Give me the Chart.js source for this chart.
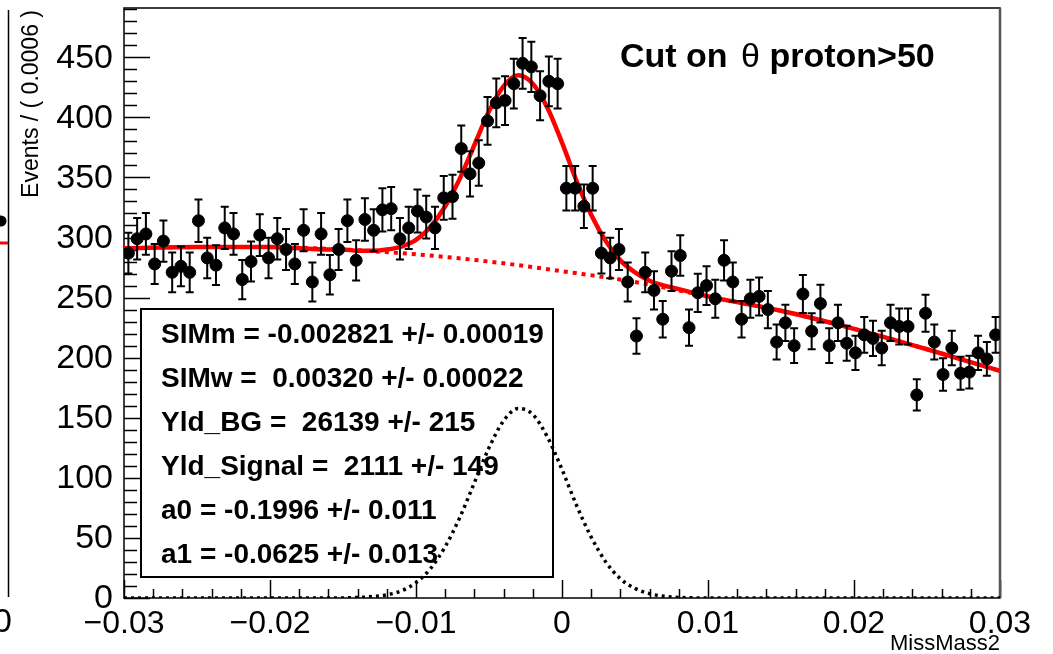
<!DOCTYPE html>
<html>
<head>
<meta charset="utf-8">
<script src="https://cdn.jsdelivr.net/npm/chart.js@4"></script>
<style>
  html, body { margin: 0; padding: 0; background: #fff; }
  #wrap { position: relative; width: 1053px; height: 654px; }
</style>
</head>
<body>
<div id="wrap"><canvas id="chart" width="1053" height="654"></canvas></div>
<script>
// histogram binning: Events / ( 0.0006 )
const xMin = -0.03;
const xMax = 0.03;
const binWidth = 0.0006;

// counts per bin
const counts = [
  287, 299, 303, 278, 297, 271, 276, 271, 314, 283,
  277, 308, 303, 265, 280, 302, 283, 299, 290, 278,
  306, 263, 303, 269, 290, 314, 281, 315, 306, 323,
  324, 299, 308, 322, 317, 308, 333, 334, 374, 353,
  362, 397, 412, 414, 428, 445, 442, 418, 430, 428,
  341, 341, 326, 341, 287, 283, 290, 263, 218, 271,
  256, 232, 272, 285, 225, 254, 260, 249, 281, 263,
  232, 249, 251, 240, 213, 229, 210, 253, 222, 245,
  210, 229, 212, 204, 219, 216, 208, 229, 226, 226,
  169, 237, 213, 186, 208, 187, 188, 204, 199, 219
];
const errors = [
  16.9, 17.3, 17.4, 16.7, 17.2, 16.5, 16.6, 16.5, 17.7, 16.8,
  16.6, 17.5, 17.4, 16.3, 16.7, 17.4, 16.8, 17.3, 17.0, 16.7,
  17.5, 16.2, 17.4, 16.4, 17.0, 17.7, 16.8, 17.7, 17.5, 18.0,
  18.0, 17.3, 17.5, 17.9, 17.8, 17.5, 18.2, 18.3, 19.3, 18.8,
  19.0, 19.9, 20.3, 20.3, 20.7, 21.1, 21.0, 20.4, 20.7, 20.7,
  18.5, 18.5, 18.1, 18.5, 16.9, 16.8, 17.0, 16.2, 14.8, 16.5,
  16.0, 15.2, 16.5, 16.9, 15.0, 15.9, 16.1, 15.8, 16.8, 16.2,
  15.2, 15.8, 15.8, 15.5, 14.6, 15.1, 14.5, 15.9, 14.9, 15.7,
  14.5, 15.1, 14.6, 14.3, 14.8, 14.7, 14.4, 15.1, 15.0, 15.0,
  13.0, 15.4, 14.6, 13.6, 14.4, 13.7, 13.7, 14.3, 14.1, 14.8
];

// full fit (solid red)
const totalX = [-0.03, -0.025, -0.02, -0.016, -0.015, -0.014, -0.013, -0.012, -0.011, -0.010,
  -0.009, -0.008, -0.007, -0.006, -0.005, -0.004, -0.003, -0.002, -0.001, 0,
  0.001, 0.002, 0.003, 0.004, 0.005, 0.006, 0.007, 0.008, 0.010, 0.015, 0.020, 0.025, 0.03];
const totalY = [291, 292, 292, 290, 290, 289, 289, 290, 292.5, 298,
  309, 326, 349, 377, 405, 426, 435, 428, 408, 379,
  347, 319, 297, 281, 271, 264, 260, 257, 251, 239, 224, 207, 189];

// background component (red dotted)
const bkgX = [-0.03, -0.025, -0.02, -0.015, -0.01, -0.005, 0, 0.005, 0.01, 0.015, 0.02, 0.025, 0.03];
const bkgY = [291, 292, 292, 290, 286, 280, 272, 263, 251, 239, 224, 207, 189];

// signal component (black dotted)
const sigX = [-0.03, -0.016, -0.014, -0.013, -0.012, -0.011, -0.010, -0.009, -0.008, -0.007,
  -0.006, -0.005, -0.004, -0.003, -0.002, -0.001, 0, 0.001, 0.002, 0.003,
  0.004, 0.005, 0.006, 0.007, 0.008, 0.010, 0.03];
const sigY = [0, 0, 0.4, 1.2, 2.6, 6, 12.8, 24.5, 42.7, 67,
  96, 125, 147.5, 157.7, 152.8, 134, 107, 77, 50.7, 30,
  16, 8, 3.6, 1.4, 0.5, 0, 0];

const yTicks = [0, 50, 100, 150, 200, 250, 300, 350, 400, 450];
const xTicks = [-0.03, -0.02, -0.01, 0, 0.01, 0.02, 0.03];
const xTickLabels = ["\u22120.03", "\u22120.02", "\u22120.01", "0", "0.01", "0.02", "0.03"];

const statsLines = [
  "SIMm = -0.002821 +/- 0.00019",
  "SIMw =  0.00320 +/- 0.00022",
  "Yld_BG =  26139 +/- 215",
  "Yld_Signal =  2111 +/- 149",
  "a0 = -0.1996 +/- 0.011",
  "a1 = -0.0625 +/- 0.013"
];

const FONT = "'Liberation Sans', Arial, sans-serif";

let points = counts.map(function (c, i) {
  return { x: xMin + (i + 0.5) * binWidth, y: c };
});

function pairs(xs, ys) {
  return xs.map(function (x, i) { return { x: x, y: ys[i] }; });
}

// frame, ticks, labels, stats box
const rootFrame = {
  id: "rootFrame",
  beforeDatasetsDraw(chart) {
    const ctx = chart.ctx;
    const a = chart.chartArea;
    const xs = chart.scales.x, ys = chart.scales.y;
    ctx.save();
    ctx.strokeStyle = "#000";
    ctx.lineWidth = 1.5;

    // y ticks (inside frame)
    for (let v = 0; v <= ys.max; v += 10) {
      const py = Math.round(ys.getPixelForValue(v)) + 0.5;
      const len = (v % 50 === 0) ? 26 : 13;
      ctx.beginPath();
      ctx.moveTo(a.left, py);
      ctx.lineTo(a.left + len, py);
      ctx.stroke();
    }
    // x ticks
    for (let k = 0; k <= 30; k++) {
      const v = xMin + k * 0.002;
      const px = Math.round(xs.getPixelForValue(v)) + 0.5;
      const len = (k % 5 === 0) ? 18 : 9;
      ctx.beginPath();
      ctx.moveTo(px, a.bottom);
      ctx.lineTo(px, a.bottom - len);
      ctx.stroke();
    }

    // frame
    ctx.strokeRect(a.left, a.top, a.right - a.left, a.bottom - a.top);
    ctx.strokeStyle = "#555";
    ctx.lineWidth = 2.5;
    ctx.beginPath();
    ctx.moveTo(a.right, a.top);
    ctx.lineTo(a.right, a.bottom);
    ctx.stroke();
    ctx.strokeStyle = "#000";

    // tick labels
    ctx.fillStyle = "#000";
    ctx.font = "34px " + FONT;
    ctx.textAlign = "right";
    ctx.textBaseline = "middle";
    yTicks.forEach(function (v) {
      ctx.fillText(String(v), 113, ys.getPixelForValue(v) + 1);
    });
    ctx.font = "32px " + FONT;
    ctx.textAlign = "center";
    ctx.textBaseline = "alphabetic";
    xTicks.forEach(function (v, i) {
      ctx.fillText(xTickLabels[i], xs.getPixelForValue(v), 633);
    });

    // axis titles
    ctx.font = "22px " + FONT;
    ctx.textAlign = "right";
    ctx.fillText("MissMass2", a.right, 650);
    ctx.save();
    ctx.font = "23px " + FONT;
    ctx.translate(38, a.top + 2);
    ctx.rotate(-Math.PI / 2);
    ctx.textAlign = "right";
    ctx.fillText("Events / ( 0.0006 )", 0, 0);
    ctx.restore();

    // title
    ctx.textAlign = "left";
    ctx.font = "bold 34px " + FONT;
    let tx = 620;
    ctx.fillText("Cut on ", tx, 67);
    tx += ctx.measureText("Cut on ").width + 4;
    ctx.font = "34px " + FONT;
    ctx.fillText("\u03b8", tx, 67);
    tx += ctx.measureText("\u03b8").width;
    ctx.font = "bold 34px " + FONT;
    ctx.fillText(" proton>50", tx, 67);

    // stats box
    ctx.fillStyle = "#fff";
    ctx.fillRect(141, 309, 412, 268);
    ctx.lineWidth = 2;
    ctx.strokeRect(141, 309, 412, 268);
    ctx.fillStyle = "#000";
    ctx.font = "bold 28px " + FONT;
    ctx.textBaseline = "middle";
    statsLines.forEach(function (s, i) {
      ctx.fillText(s, 161, 335 + i * 44);
    });

    // edge of the neighbouring pad
    ctx.lineWidth = 1.5;
    ctx.beginPath();
    ctx.moveTo(8.5, 10);
    ctx.lineTo(8.5, 597);
    ctx.stroke();
    ctx.strokeStyle = "#ff0000";
    ctx.lineWidth = 3;
    ctx.beginPath();
    ctx.moveTo(0, 243);
    ctx.lineTo(8, 243);
    ctx.stroke();
    ctx.beginPath();
    ctx.fillStyle = "#000";
    ctx.arc(1, 221, 5.5, 0, Math.PI * 2);
    ctx.fill();
    ctx.font = "34px " + FONT;
    ctx.textBaseline = "alphabetic";
    ctx.fillText("0", -7, 632);
    ctx.restore();
  },
  beforeDatasetDraw(chart, args) {
    if (args.index !== 3) return;
    const ctx = chart.ctx;
    const ys = chart.scales.y;
    const meta = chart.getDatasetMeta(3);
    ctx.save();
    ctx.strokeStyle = "#000";
    ctx.lineWidth = 2;
    meta.data.forEach(function (el, i) {
      const top = ys.getPixelForValue(counts[i] + errors[i]);
      const bot = ys.getPixelForValue(counts[i] - errors[i]);
      ctx.beginPath();
      ctx.moveTo(el.x, top);
      ctx.lineTo(el.x, bot);
      ctx.moveTo(el.x - 4, top);
      ctx.lineTo(el.x + 4, top);
      ctx.moveTo(el.x - 4, bot);
      ctx.lineTo(el.x + 4, bot);
      ctx.stroke();
    });
    ctx.restore();
  }
};

new Chart(document.getElementById("chart"), {
  type: "scatter",
  data: {
    datasets: [
      {
        label: "model",
        data: pairs(totalX, totalY),
        showLine: true,
        borderColor: "#ff0000",
        borderWidth: 4.5,
        pointRadius: 0,
        cubicInterpolationMode: "monotone",
        order: 2
      },
      {
        label: "background",
        data: pairs(bkgX, bkgY),
        showLine: true,
        borderColor: "#ff0000",
        borderWidth: 4,
        borderDash: [4, 5],
        pointRadius: 0,
        cubicInterpolationMode: "monotone",
        order: 3
      },
      {
        label: "signal",
        data: pairs(sigX, sigY),
        showLine: true,
        borderColor: "#000",
        borderWidth: 3.5,
        borderDash: [3, 4],
        pointRadius: 0,
        cubicInterpolationMode: "monotone",
        order: 1
      },
      {
        label: "data",
        data: points,
        backgroundColor: "#000",
        borderColor: "#000",
        pointRadius: 6,
        order: 0
      }
    ]
  },
  options: {
    responsive: false,
    animation: false,
    layout: { padding: { left: 124, right: 53, top: 8, bottom: 56 } },
    scales: {
      x: { type: "linear", min: xMin, max: xMax, display: false },
      y: { type: "linear", min: 0, max: 491, display: false }
    },
    plugins: { legend: { display: false }, tooltip: { enabled: false } }
  },
  plugins: [rootFrame]
});
</script>
</body>
</html>
